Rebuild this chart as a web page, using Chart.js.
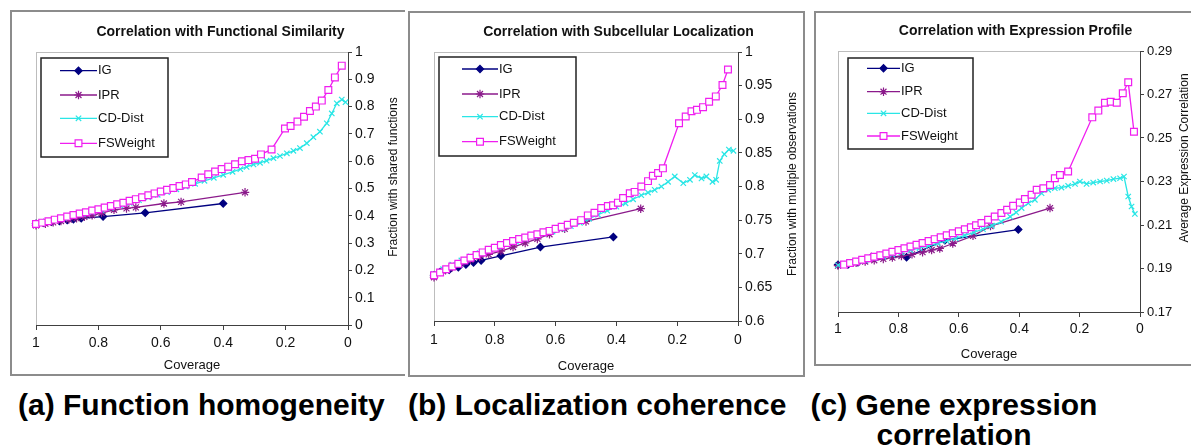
<!DOCTYPE html>
<html lang="en">
<head>
<meta charset="UTF-8">
<title>Correlation panels</title>
<script src="https://cdn.jsdelivr.net/npm/chart.js"></script>
<style>
    body { margin: 0; width: 1191px; height: 446px; overflow: hidden; position: relative; background: #fff;
           font-family: "Liberation Sans", Arial, sans-serif; }
    .panel { position: absolute; border: 2px solid #8c8c8c; background: #fff; }
    #pa { left: 10px; top: 10px; width: 393px; height: 362px; border-right: none; }
    #pb { left: 408px; top: 11px; width: 393px; height: 362px; }
    #pc { left: 814px; top: 11px; width: 377px; height: 351px; border-right: none; }
    .caption { position: absolute; font-size: 30px; font-weight: bold; line-height: 30px; color: #000; white-space: nowrap; }
</style>
</head>
<body>

<div class="panel" id="pa"><canvas id="chartA"></canvas></div>
<div class="panel" id="pb"><canvas id="chartB"></canvas></div>
<div class="panel" id="pc"><canvas id="chartC"></canvas></div>

<div class="caption" style="left:18px; top:390px;">(a) Function homogeneity</div>
<div class="caption" style="left:408px; top:390px;">(b) Localization coherence</div>
<div class="caption" style="left:789px; top:390px; width:330px; text-align:center;">(c) Gene expression<br>correlation</div>

<script>
// ---- data ----
const seriesNames = ["IG", "IPR", "CD-Dist", "FSWeight"];
const xTicks = [0, 0.2, 0.4, 0.6, 0.8, 1];
const yTicksA = [0, 0.1, 0.2, 0.3, 0.4, 0.5, 0.6, 0.7, 0.8, 0.9, 1];
const yTicksB = [0.6, 0.65, 0.7, 0.75, 0.8, 0.85, 0.9, 0.95, 1];
const yTicksC = [0.17, 0.19, 0.21, 0.23, 0.25, 0.27, 0.29];

// (a) functional similarity
const aIGx = [1.0, 0.975, 0.95, 0.925, 0.9, 0.88, 0.855, 0.785, 0.65, 0.40];
const aIGy = [0.371, 0.374, 0.378, 0.381, 0.384, 0.387, 0.391, 0.397, 0.411, 0.445];
const aIPRx = [1.0, 0.97, 0.945, 0.92, 0.895, 0.87, 0.845, 0.82, 0.79, 0.75, 0.71, 0.68, 0.59, 0.535, 0.33];
const aIPRy = [0.365, 0.371, 0.376, 0.381, 0.386, 0.391, 0.396, 0.402, 0.41, 0.422, 0.427, 0.431, 0.445, 0.451, 0.486];
const aCDx = [1.0, 0.97, 0.94, 0.91, 0.88, 0.85, 0.82, 0.79, 0.76, 0.73, 0.70, 0.67, 0.64, 0.61, 0.58, 0.55, 0.52, 0.49, 0.46, 0.43,
              0.40, 0.37, 0.345, 0.325, 0.303, 0.282, 0.261, 0.239, 0.218, 0.196, 0.175, 0.154, 0.132, 0.111, 0.09, 0.068, 0.052, 0.036, 0.02, 0.008];
const aCDy = [0.372, 0.378, 0.385, 0.392, 0.399, 0.406, 0.413, 0.421, 0.429, 0.438, 0.447, 0.457, 0.467, 0.477, 0.487, 0.497, 0.507, 0.517, 0.528, 0.539,
              0.55, 0.561, 0.571, 0.579, 0.588, 0.594, 0.602, 0.611, 0.619, 0.629, 0.638, 0.648, 0.666, 0.688, 0.708, 0.739, 0.775, 0.812, 0.826, 0.816];
const aFSx = [1.0, 0.98, 0.96, 0.94, 0.92, 0.90, 0.88, 0.86, 0.84, 0.82, 0.80, 0.78, 0.76, 0.74, 0.72, 0.70, 0.68, 0.66, 0.64, 0.62, 0.60, 0.58, 0.56, 0.54, 0.52, 0.50,
              0.469, 0.448, 0.426, 0.405, 0.384, 0.362, 0.34, 0.319, 0.298, 0.279, 0.245, 0.202, 0.184, 0.162, 0.141, 0.122, 0.103, 0.084, 0.063, 0.042, 0.02];
const aFSy = [0.370, 0.375, 0.380, 0.386, 0.391, 0.397, 0.403, 0.408, 0.413, 0.419, 0.424, 0.430, 0.436, 0.442, 0.448, 0.455, 0.461, 0.468, 0.475, 0.482, 0.489, 0.495, 0.502, 0.509, 0.515, 0.524,
              0.540, 0.552, 0.562, 0.571, 0.58, 0.589, 0.6, 0.604, 0.609, 0.625, 0.643, 0.72, 0.729, 0.745, 0.763, 0.784, 0.8, 0.822, 0.861, 0.907, 0.95];

// (b) subcellular localization
const bIGx = [1.0, 0.98, 0.95, 0.92, 0.895, 0.87, 0.845, 0.78, 0.65, 0.41];
const bIGy = [0.668, 0.673, 0.676, 0.68, 0.684, 0.687, 0.69, 0.697, 0.71, 0.725];
const bIPRx = [1.0, 0.97, 0.94, 0.91, 0.88, 0.85, 0.82, 0.78, 0.74, 0.70, 0.66, 0.62, 0.57, 0.50, 0.32];
const bIPRy = [0.665, 0.674, 0.68, 0.686, 0.691, 0.695, 0.699, 0.704, 0.71, 0.716, 0.722, 0.729, 0.737, 0.748, 0.767];
const bCDx = [1.0, 0.97, 0.94, 0.91, 0.88, 0.85, 0.82, 0.79, 0.76, 0.73, 0.70, 0.67, 0.64, 0.61, 0.58, 0.55, 0.52, 0.49, 0.46, 0.43,
              0.40, 0.37, 0.345, 0.318, 0.296, 0.274, 0.252, 0.23, 0.208, 0.18, 0.158, 0.142, 0.12, 0.104, 0.084, 0.072, 0.06, 0.045, 0.03, 0.015];
const bCDy = [0.67, 0.677, 0.684, 0.69, 0.696, 0.701, 0.706, 0.71, 0.714, 0.718, 0.722, 0.726, 0.73, 0.733, 0.737, 0.741, 0.746, 0.752, 0.758, 0.764,
              0.77, 0.775, 0.781, 0.787, 0.791, 0.795, 0.8, 0.807, 0.815, 0.805, 0.81, 0.817, 0.812, 0.815, 0.807, 0.81, 0.838, 0.848, 0.855, 0.853];
const bFSx = [1.0, 0.98, 0.96, 0.94, 0.92, 0.90, 0.88, 0.86, 0.84, 0.82, 0.80, 0.78, 0.76, 0.74, 0.72, 0.70, 0.68, 0.66, 0.64, 0.62, 0.60, 0.58, 0.56, 0.54,
              0.516, 0.494, 0.472, 0.45, 0.428, 0.411, 0.395, 0.378, 0.356, 0.34, 0.318, 0.296, 0.28, 0.263, 0.247, 0.194, 0.172, 0.153, 0.135, 0.115, 0.095, 0.073, 0.051, 0.033];
const bFSy = [0.668, 0.672, 0.677, 0.681, 0.685, 0.69, 0.694, 0.698, 0.702, 0.706, 0.709, 0.713, 0.716, 0.719, 0.722, 0.724, 0.727, 0.729, 0.732, 0.734, 0.737, 0.74, 0.743, 0.746,
              0.75, 0.757, 0.761, 0.768, 0.771, 0.772, 0.776, 0.783, 0.79, 0.792, 0.8, 0.808, 0.816, 0.82, 0.827, 0.894, 0.904, 0.912, 0.914, 0.918, 0.926, 0.934, 0.951, 0.974];

// (c) expression profile
const cIGx = [1.0, 0.967, 0.934, 0.889, 0.862, 0.773, 0.646, 0.403];
const cIGy = [0.1917, 0.1918, 0.1928, 0.1953, 0.1958, 0.1952, 0.203, 0.2079];
const cIPRx = [1.0, 0.97, 0.94, 0.91, 0.88, 0.85, 0.82, 0.79, 0.755, 0.72, 0.69, 0.663, 0.62, 0.553, 0.495, 0.298];
const cIPRy = [0.1913, 0.192, 0.1926, 0.1932, 0.1938, 0.1944, 0.195, 0.1957, 0.1965, 0.1975, 0.1985, 0.1992, 0.2015, 0.205, 0.2095, 0.2178];
const cCDx = [1.0, 0.97, 0.94, 0.91, 0.88, 0.85, 0.82, 0.79, 0.76, 0.73, 0.70, 0.67, 0.64, 0.61, 0.58, 0.55, 0.52, 0.49, 0.46, 0.43, 0.41,
              0.392, 0.37, 0.348, 0.326, 0.304, 0.282, 0.26, 0.238, 0.215, 0.199, 0.177, 0.155, 0.132, 0.11, 0.088, 0.066, 0.053, 0.039, 0.028, 0.017];
const cCDy = [0.1915, 0.1921, 0.1929, 0.1937, 0.1946, 0.1955, 0.1964, 0.1974, 0.1984, 0.1994, 0.2004, 0.2015, 0.2027, 0.2039, 0.2052, 0.2066, 0.2081, 0.2097, 0.2115, 0.2138, 0.2158,
              0.2178, 0.22, 0.2216, 0.2246, 0.2262, 0.2269, 0.2272, 0.228, 0.2289, 0.23, 0.2289, 0.2295, 0.23, 0.2304, 0.2311, 0.2315, 0.2323, 0.2231, 0.2185, 0.2151];
const cFSx = [0.98, 0.96, 0.94, 0.92, 0.90, 0.88, 0.86, 0.84, 0.82, 0.80, 0.78, 0.76, 0.74, 0.72, 0.70, 0.68, 0.66, 0.64, 0.62, 0.60, 0.58, 0.56, 0.543,
              0.525, 0.503, 0.481, 0.459, 0.44, 0.42, 0.398, 0.381, 0.359, 0.342, 0.32, 0.298, 0.282, 0.265, 0.238, 0.158, 0.138, 0.116, 0.097, 0.077, 0.057, 0.039, 0.02];
const cFSy = [0.1918, 0.1925, 0.1932, 0.194, 0.1947, 0.1954, 0.1961, 0.1969, 0.1977, 0.1985, 0.1993, 0.2001, 0.2009, 0.2017, 0.2026, 0.2035, 0.2044, 0.2053, 0.2062, 0.2071, 0.208, 0.209, 0.2099,
              0.2109, 0.2124, 0.2139, 0.2155, 0.217, 0.2188, 0.2203, 0.2219, 0.2239, 0.2262, 0.2269, 0.2284, 0.2315, 0.233, 0.2346, 0.2595, 0.2626, 0.2662, 0.2667, 0.2662, 0.2706, 0.2756, 0.2529];

// ---- styles ----
const FONT = '"Liberation Sans", Arial, sans-serif';
const INK = '#111';
const AXIS = '#404040';
const seriesStyle = [
    { color: '#000080', point: 'rectRot', r: 3.6, fill: '#000080' },
    { color: '#8b1a8b', point: 'star', r: 4.2, fill: '#8b1a8b' },
    { color: '#2ae6e6', point: 'crossRot', r: 3.8, fill: '#2ae6e6' },
    { color: '#f01ef0', point: 'rect', r: 4.8, fill: '#ffffff' }
];

// gray plot-area frame (Excel style)
const plotFrame = {
    id: 'plotFrame',
    beforeDraw(chart) {
        const a = chart.chartArea, ctx = chart.ctx;
        ctx.save();
        ctx.strokeStyle = '#bdbdbd';
        ctx.lineWidth = 1;
        ctx.strokeRect(a.left + 0.5, a.top + 0.5, a.right - a.left, a.bottom - a.top);
        ctx.restore();
    }
};

// y title on the right, reading bottom to top
const sideTitle = {
    id: 'sideTitle',
    afterDraw(chart, args, o) {
        const ctx = chart.ctx;
        ctx.save();
        ctx.translate(o.x, o.y);
        ctx.rotate(-Math.PI / 2);
        ctx.font = o.size + 'px ' + FONT;
        ctx.fillStyle = INK;
        ctx.textAlign = 'center';
        ctx.textBaseline = 'middle';
        ctx.fillText(o.text, 0, 0);
        ctx.restore();
    }
};

// boxed legend: line + marker + label
const boxLegend = {
    id: 'boxLegend',
    afterDatasetsDraw(chart, args, o) {
        const ctx = chart.ctx;
        ctx.save();
        ctx.fillStyle = '#fff';
        ctx.fillRect(o.x, o.y, o.w, o.h);
        ctx.strokeStyle = '#222';
        ctx.lineWidth = 1.5;
        ctx.strokeRect(o.x, o.y, o.w, o.h);
        chart.data.datasets.forEach((ds, i) => {
            const st = seriesStyle[i], y = o.rows[i];
            ctx.strokeStyle = st.color;
            ctx.lineWidth = 1.3;
            ctx.beginPath();
            ctx.moveTo(o.x0, y);
            ctx.lineTo(o.x1, y);
            ctx.stroke();
            ctx.fillStyle = st.fill;
            ctx.lineWidth = 1.2;
            Chart.helpers.drawPoint(ctx, { pointStyle: st.point, radius: st.r, rotation: 0, borderWidth: 1.2 }, (o.x0 + o.x1) / 2, y);
            ctx.fillStyle = INK;
            ctx.font = o.size + 'px ' + FONT;
            ctx.textAlign = 'left';
            ctx.textBaseline = 'middle';
            ctx.fillText(ds.label, o.tx, y);
        });
        ctx.restore();
    }
};

function makeChart(id, p) {
    const datasets = p.series.map((s, i) => ({
        label: seriesNames[i],
        data: s[0].map((x, k) => ({ x: x, y: s[1][k] })),
        showLine: true,
        borderColor: seriesStyle[i].color,
        backgroundColor: seriesStyle[i].fill,
        borderWidth: 1.3,
        tension: 0,
        pointStyle: seriesStyle[i].point,
        pointRadius: seriesStyle[i].r,
        pointBorderColor: seriesStyle[i].color,
        pointBackgroundColor: seriesStyle[i].fill,
        pointBorderWidth: 1.2,
        order: 4 - i,
        clip: false
    }));
    const ox = p.origin[0], oy = p.origin[1];
    const L = p.legend;
    return new Chart(document.getElementById(id), {
        type: 'scatter',
        data: { datasets: datasets },
        plugins: [plotFrame, sideTitle, boxLegend],
        options: {
            responsive: true,
            maintainAspectRatio: false,
            animation: false,
            events: [],
            layout: { padding: { left: p.padLeft, right: 0, top: 0, bottom: 0 } },
            plugins: {
                legend: { display: false },
                tooltip: { enabled: false },
                title: {
                    display: true, text: p.title, color: INK,
                    font: { family: FONT, size: 14, weight: 'bold' },
                    padding: { top: p.titlePad[0], bottom: p.titlePad[1] }
                },
                sideTitle: { text: p.yTitle, x: p.yTitlePos[0] - ox, y: p.yTitlePos[1] - oy, size: 12 },
                boxLegend: {
                    x: L.box[0] - ox, y: L.box[1] - oy, w: L.box[2], h: L.box[3],
                    rows: L.rows.map(v => v - oy), x0: L.line[0] - ox, x1: L.line[1] - ox, tx: L.line[1] - ox + 1, size: 13
                }
            },
            scales: {
                x: {
                    type: 'linear', reverse: true, min: 0, max: 1,
                    afterBuildTicks: s => { s.ticks = xTicks.map(v => ({ value: v })); },
                    afterFit: s => { s.height = p.xAxisH; },
                    grid: { drawOnChartArea: false, drawTicks: true, tickLength: 5, color: AXIS },
                    border: { color: AXIS, width: 1 },
                    ticks: { font: { family: FONT, size: 14 }, color: INK, padding: p.xTickPad, maxRotation: 0, callback: v => String(v) },
                    title: { display: true, text: 'Coverage', color: INK, font: { family: FONT, size: 13 }, padding: { top: 0, bottom: p.xTitlePad } }
                },
                y: {
                    position: 'right', min: p.yTicks[0], max: p.yTicks[p.yTicks.length - 1],
                    afterBuildTicks: s => { s.ticks = p.yTicks.map(v => ({ value: v })); },
                    afterFit: s => { s.width = p.yAxisW; },
                    grid: { drawOnChartArea: false, drawTicks: true, tickLength: 4, color: AXIS },
                    border: { color: AXIS, width: 1 },
                    ticks: { font: { family: FONT, size: p.yTickSize }, color: INK, padding: 3, callback: v => String(v) }
                }
            }
        }
    });
}

makeChart('chartA', {
    series: [[aIGx, aIGy], [aIPRx, aIPRy], [aCDx, aCDy], [aFSx, aFSy]],
    title: 'Correlation with Functional Similarity',
    yTitle: 'Fraction with shared functions',
    yTicks: yTicksA, yTickSize: 14,
    origin: [12, 12], padLeft: 24, yAxisW: 57, xAxisH: 49, titlePad: [11.3, 11.9],
    xTickPad: 5, xTitlePad: 1,
    yTitlePos: [394, 177],
    legend: { box: [41, 58, 127, 99], rows: [70.7, 95, 118.3, 143.3], line: [60, 97] }
});

makeChart('chartB', {
    series: [[bIGx, bIGy], [bIPRx, bIPRy], [bCDx, bCDy], [bFSx, bFSy]],
    title: 'Correlation with Subcellular Localization',
    yTitle: 'Fraction with multiple observations',
    yTicks: yTicksB, yTickSize: 14,
    origin: [410, 13], padLeft: 24, yAxisW: 65, xAxisH: 54, titlePad: [10.9, 11.3],
    xTickPad: 6, xTitlePad: 1,
    yTitlePos: [793, 184],
    legend: { box: [439, 57, 137, 99], rows: [69, 94, 116.7, 141.7], line: [462, 498] }
});

makeChart('chartC', {
    series: [[cIGx, cIGy], [cIPRx, cIPRy], [cCDx, cCDy], [cFSx, cFSy]],
    title: 'Correlation with Expression Profile',
    yTitle: 'Average Expression Correlation',
    yTicks: yTicksC, yTickSize: 13,
    origin: [816, 13], padLeft: 22, yAxisW: 53, xAxisH: 52, titlePad: [9.3, 11.9],
    xTickPad: 4, xTitlePad: 2,
    yTitlePos: [1185, 158],
    legend: { box: [848, 58, 125, 91], rows: [68.3, 91.7, 113.3, 136], line: [867, 900] }
});
</script>
</body>
</html>
